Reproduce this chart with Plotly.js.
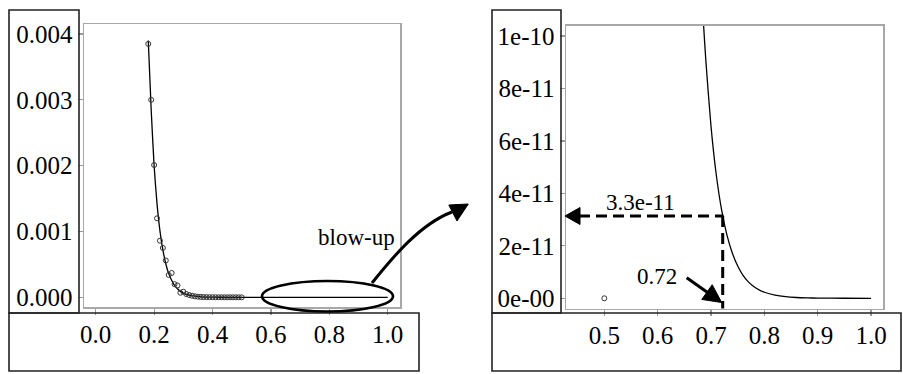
<!DOCTYPE html>
<html>
<head>
<meta charset="utf-8">
<script src="https://cdn.plot.ly/plotly-3.0.1.min.js"></script>
<style>html,body{margin:0;padding:0;background:#fff;}#chart{width:903px;height:374px;}</style>
</head>
<body>
<div id="chart"></div>
<script>
// ---------- data ----------
const obsX = [0.18,0.19,0.20,0.21,0.22,0.23,0.24,0.25,0.26,0.27,0.28,0.29,0.30,0.31,0.32,0.33,0.34,0.35,0.36,0.37,0.38,0.39,0.40,0.41,0.42,0.43,0.44,0.45,0.46,0.47,0.48,0.49,0.50];
const obsY = [3.85e-3,3.0e-3,2.01e-3,1.20e-3,8.6e-4,7.5e-4,5.6e-4,3.4e-4,3.7e-4,2.0e-4,1.8e-4,7e-5,8.5e-5,5e-5,3.5e-5,2.4e-5,1.5e-5,9e-6,6e-6,4e-6,3e-6,2e-6,1.5e-6,1e-6,8e-7,6e-7,5e-7,4e-7,3e-7,2.5e-7,2e-7,1.5e-7,0];
const fitX = [0.18,0.19,0.20,0.21,0.22,0.23,0.24,0.25,0.26,0.27,0.28,0.29,0.30,0.32,0.34,0.36,0.40,0.45,0.50,0.55,0.60,0.65,0.68,0.69,0.70,0.71,0.72,0.73,0.74,0.75,0.76,0.77,0.78,0.79,0.80,0.82,0.84,0.86,0.88,0.90,0.95,1.00];
const fitY = [3.9e-3,2.85e-3,2.0e-3,1.42e-3,1.01e-3,7.2e-4,5.1e-4,3.6e-4,2.6e-4,1.8e-4,1.3e-4,9e-5,6.5e-5,3.3e-5,1.7e-5,8.3e-6,2.1e-6,3.8e-7,7e-8,1.0e-8,1.87e-9,3.5e-10,1.28e-10,9.15e-11,6.55e-11,4.68e-11,3.35e-11,2.40e-11,1.72e-11,1.23e-11,8.78e-12,6.26e-12,4.49e-12,3.21e-12,2.30e-12,1.18e-12,6.0e-13,3.0e-13,1.6e-13,8.0e-14,1.5e-14,2.8e-15];

const xTickValsL = [0,0.2,0.4,0.6,0.8,1.0];
const xTickTextL = ['0.0','0.2','0.4','0.6','0.8','1.0'];
const yTickValsL = [0,0.001,0.002,0.003,0.004];
const yTickTextL = ['0.000','0.001','0.002','0.003','0.004'];
const xTickValsR = [0.5,0.6,0.7,0.8,0.9,1.0];
const xTickTextR = ['0.5','0.6','0.7','0.8','0.9','1.0'];
const yTickValsR = [0,2e-11,4e-11,6e-11,8e-11,1e-10];
const yTickTextR = ['0e-00','2e-11','4e-11','6e-11','8e-11','1e-10'];

const labelBlow = 'blow-up';
const labelY = '3.3e-11';
const labelX = '0.72';

// ---------- layout helpers ----------
const W = 903, H = 374;
const fx = p => p / W;
const fy = p => 1 - p / H;
const SERIF = '"Liberation Serif", "Times New Roman", serif';

const fitLine = (xa, ya) => ({x: fitX, y: fitY, xaxis: xa, yaxis: ya, type: 'scatter', mode: 'lines',
  line: {color: '#000', width: 1.3, shape: 'spline', smoothing: 0.6}, hoverinfo: 'skip'});
const obsPts = (xa, ya) => ({x: obsX, y: obsY, xaxis: xa, yaxis: ya, type: 'scatter', mode: 'markers',
  marker: {symbol: 'circle-open', size: 5, color: '#333', line: {width: 1, color: '#333'}}, hoverinfo: 'skip'});

const traces = [fitLine('x','y'), obsPts('x','y'), fitLine('x2','y2'), obsPts('x2','y2')];

const axCommon = () => ({ticks: 'outside', tickcolor: '#999', tickwidth: 1.2, showline: true, linecolor: '#a8a8a8',
  linewidth: 1.5, mirror: true, showgrid: false, zeroline: false, tickmode: 'array',
  tickfont: {family: SERIF, size: 25, color: '#000'}});

function rectPx(x0, y0, x1, y1) {
  return {type: 'rect', xref: 'paper', yref: 'paper', x0: fx(x0), x1: fx(x1), y0: fy(y1), y1: fy(y0),
    line: {color: '#222', width: 1.6}, fillcolor: 'rgba(0,0,0,0)', layer: 'above'};
}
function pathPx(pts, close, opts) {
  let d = pts.map((p, i) => (i === 0 ? 'M' : 'L') + fx(p[0]) + ',' + fy(p[1])).join(' ');
  if (close) d += ' Z';
  return Object.assign({type: 'path', xref: 'paper', yref: 'paper', path: d, layer: 'above'}, opts);
}
function linePx(x0, y0, x1, y1, opts) {
  return Object.assign({type: 'line', xref: 'paper', yref: 'paper', x0: fx(x0), y0: fy(y0), x1: fx(x1), y1: fy(y1), layer: 'above'}, opts);
}
function arrowHead(tip, from, len, half) {
  const dx = tip[0] - from[0], dy = tip[1] - from[1];
  const L = Math.hypot(dx, dy), ux = dx / L, uy = dy / L;
  const bx = tip[0] - ux * len, by = tip[1] - uy * len;
  return pathPx([tip, [bx - uy * half, by + ux * half], [bx + uy * half, by - ux * half]], true,
    {line: {color: '#000', width: 1}, fillcolor: '#000'});
}

const curve = 'M' + fx(372) + ',' + fy(283) + ' C' + fx(392) + ',' + fy(258) + ' ' + fx(420) + ',' + fy(224) + ' ' + fx(452) + ',' + fy(212);

const shapes = [
  rectPx(9, 10, 79, 313),
  rectPx(9, 313, 419, 371),
  rectPx(492, 10, 561, 313),
  rectPx(492, 313, 901, 371),
  {type: 'circle', xref: 'paper', yref: 'paper', x0: fx(262), x1: fx(393), y0: fy(311.5), y1: fy(281),
    line: {color: '#000', width: 2.6}, layer: 'above'},
  {type: 'path', xref: 'paper', yref: 'paper', path: curve, line: {color: '#000', width: 3}, layer: 'above'},
  pathPx([[468.3, 204], [448.8, 205], [457, 221]], true, {line: {color: '#000', width: 1}, fillcolor: '#000'}),
  linePx(579, 216, 723.5, 216, {line: {color: '#000', width: 3, dash: '11px,6px'}}),
  linePx(722.7, 216, 722.7, 308.5, {line: {color: '#000', width: 3, dash: '11px,6px'}}),
  arrowHead([565, 216], [600, 216], 15, 8.5),
  linePx(686.7, 277.7, 709, 293.5, {line: {color: '#000', width: 3}}),
  arrowHead([721.7, 302.5], [686.7, 277.7], 18, 9)
];

const annotations = [
  {xref: 'paper', yref: 'paper', x: fx(356), y: fy(237), text: labelBlow, showarrow: false,
    xanchor: 'center', yanchor: 'middle', font: {family: SERIF, size: 23, color: '#000'}},
  {xref: 'paper', yref: 'paper', x: fx(640), y: fy(202), text: labelY, showarrow: false,
    xanchor: 'center', yanchor: 'middle', font: {family: SERIF, size: 23, color: '#000'}},
  {xref: 'paper', yref: 'paper', x: fx(657), y: fy(276), text: labelX, showarrow: false,
    xanchor: 'center', yanchor: 'middle', font: {family: SERIF, size: 23, color: '#000'}}
];

const layout = {
  width: W, height: H, margin: {l: 0, r: 0, t: 0, b: 0, pad: 0},
  paper_bgcolor: '#fff', plot_bgcolor: '#fff', showlegend: false,
  font: {family: SERIF, size: 25, color: '#000'},
  xaxis: Object.assign(axCommon(), {domain: [fx(84), fx(400)], range: [-0.0401, 1.0421], anchor: 'y',
    tickvals: xTickValsL, ticktext: xTickTextL, ticklen: 6, ticklabelstandoff: -2}),
  yaxis: Object.assign(axCommon(), {domain: [fy(307), fy(24)], range: [-0.000147, 0.004152], anchor: 'x',
    tickvals: yTickValsL, ticktext: yTickTextL, ticklen: 5, ticklabelstandoff: 0}),
  xaxis2: Object.assign(axCommon(), {domain: [fx(566), fx(883)], range: [0.4282, 1.0223], anchor: 'y2',
    tickvals: xTickValsR, ticktext: xTickTextR, ticklen: 6, ticklabelstandoff: -2}),
  yaxis2: Object.assign(axCommon(), {domain: [fy(308.5), fy(25.5)], range: [-3.89e-12, 1.04e-10], anchor: 'x2',
    tickvals: yTickValsR, ticktext: yTickTextR, ticklen: 5, ticklabelstandoff: 0}),
  shapes: shapes,
  annotations: annotations
};

Plotly.newPlot('chart', traces, layout, {displayModeBar: false, staticPlot: true});
</script>
</body>
</html>
